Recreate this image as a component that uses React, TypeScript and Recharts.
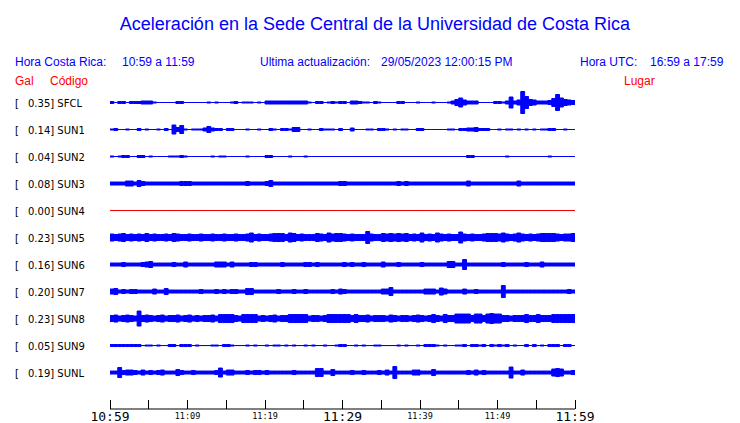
import { Area, ComposedChart, XAxis, YAxis } from 'recharts';

const codes = ['SFCL', 'SUN1', 'SUN2', 'SUN3', 'SUN4', 'SUN5', 'SUN6', 'SUN7', 'SUN8', 'SUN9', 'SUNL'];
const peaks = ['0.35', '0.14', '0.04', '0.08', '0.00', '0.23', '0.16', '0.20', '0.23', '0.05', '0.19'];
const places = [
  'Finca El Corralillo, Coronado',
  'CIMAR',
  'Ingenieria P01',
  'Ingenieria P06',
  'EBCI',
  'Rectoria',
  'Agroalimentarias',
  'Archivo',
  'Electrica P06',
  'Electrica P01',
  'LANAMME-CTT',
];
// station SUN4 had no signal and is drawn in red
const deadStations = ['SUN4'];

// minutes after 10:59
const timeTicks = [0, 5, 10, 15, 20, 25, 30, 35, 40, 45, 50, 55, 60];
const timeLabels = ['10:59', '', '11:09', '', '11:19', '', '11:29', '', '11:39', '', '11:49', '', '11:59'];
const bigLabels = ['10:59', '11:29', '11:59'];

// envelope of each trace, one char per 30 s (120 per hour), base-36 level
const sfcl = '2022022233 3100000220 0000010100 0120111010 3333333333 3102201212 2033211021 0000220001 0001000136 9533300002 213b35mc65 33348g9654';
const sun1 = '1200100201 0010209481 0111363220 2200010010 0210221440 0100211102 0030001102 2101011002 2000000110 2233422200 1011010101 0112200100';
const sun2 = '1012200220 1000011121 0000001011 0000010000 2200001000 1000000000 0000000000 0000000000 0000000000 0022000000 0010000000 0001000000';
const sun3 = '3333553643 3333333344 4333333333 3333343333 4633333333 3333333334 4333333333 3333434333 3333333333 3353333333 3333353333 3333333333';
const sun4 = '0000000000 0000000000 0000000000 0000000000 0000000000 0000000000 0000000000 0000000000 0000000000 0000000000 0000000000 0000000000';
const sun5 = '7678676768 6766768766 7667667667 6676679676 6788869867 6668769788 767666c766 8787878676 9676976766 b767667888 7976797676 7888876778';
const sun6 = '3334333345 6333334335 3333333555 3533334433 3333433333 4434333333 4343343333 5333433333 4333333663 3a33333333 3433333433 3533333333';
const sun7 = '5634344333 3533633333 3334333434 3443366333 3334333433 4333333435 4333333333 5583333333 3555375333 3533433333 3c33333333 3333333343';
const sun8 = '6756765f67 6567566756 7565667588 8865888856 5675668888 8566568888 8868667566 6576566567 6568658669 99969969a9 9665666866 8666888888';
const sun9 = '2222222201 1010022022 2010001102 2100010100 1011010100 1010010012 2001010011 0000101001 0222101001 1202212021 2120100202 0102220220';
const sunl = '33a4554353 4345333643 3433333493 5533343443 4333333433 3338833633 3343343334 353c333355 3336333333 3343534333 333b335333 3333787334';

const traces = [sfcl, sun1, sun2, sun3, sun4, sun5, sun6, sun7, sun8, sun9, sunl];
const rowTicks = codes.map((_, i) => i);

const SAMPLES = 120;
const ROW_PX = 27;
const BLUE = '#0000ff';
const RED = '#ee0000';

const levels = traces.map((s) => s.replace(/ /g, '').split('').map((c) => parseInt(c, 36)));

const data = Array.from({ length: SAMPLES + 1 }, (_, k) => {
  const row: Record<string, any> = { t: k * 0.5 };
  levels.forEach((lv, i) => {
    const h = (lv[Math.min(k, SAMPLES - 1)] * 0.5) / ROW_PX;
    row['s' + i] = [i - h, i + h];
  });
  return row;
});

const TimeTick = (props: any) => {
  const { x, y, index } = props;
  const label = timeLabels[index];
  const big = bigLabels.includes(label);
  return (
    <g>
      <line x1={x} x2={x} y1={y - 9} y2={y} stroke="#000" shapeRendering="crispEdges" />
      {label && (
        <text
          x={x}
          y={big ? y + 12 : y + 10}
          textAnchor="middle"
          fontFamily="DejaVu Sans Mono"
          fontSize={big ? 13 : 8.5}
          fill="#000"
        >
          {label}
        </text>
      )}
    </g>
  );
};

const CodeTick = (props: any) => {
  const { y, payload } = props;
  const i = payload.value;
  return (
    <g fontFamily="DejaVu Sans" fontSize={10} fill="#000">
      <text x={15} y={y + 4}>[</text>
      <text x={28} y={y + 4}>{peaks[i]}] {codes[i]}</text>
    </g>
  );
};

const PlaceTick = (props: any) => {
  const { y, payload } = props;
  return (
    <text x={587} y={y + 4} fontFamily="DejaVu Sans" fontSize={10} fill="#000">
      {places[payload.value]}
    </text>
  );
};

export default function App() {
  const head = { fontFamily: 'Liberation Sans, Arial, sans-serif', fontSize: 12 };
  return (
    <div style={{ position: 'absolute', left: 0, top: 0, width: 740, height: 423, background: '#fff' }}>
      <ComposedChart width={740} height={423} data={data} margin={{ top: 75.5, right: 0, bottom: 0, left: 0 }}>
        <XAxis
          dataKey="t"
          type="number"
          domain={[0, 60]}
          ticks={timeTicks}
          interval={0}
          height={14}
          tickSize={0}
          tickMargin={0}
          tickLine={false}
          axisLine={{ stroke: '#000' }}
          tick={<TimeTick />}
        />
        <YAxis
          yAxisId="l"
          type="number"
          domain={[-1, 11.35]}
          reversed
          ticks={rowTicks}
          interval={0}
          width={110}
          axisLine={false}
          tickLine={false}
          tick={<CodeTick />}
        />
        <YAxis
          yAxisId="r"
          orientation="right"
          type="number"
          domain={[-1, 11.35]}
          reversed
          ticks={rowTicks}
          interval={0}
          width={165}
          axisLine={false}
          tickLine={false}
          tick={<PlaceTick />}
        />
        {codes.map((c, i) => {
          const color = deadStations.includes(c) ? RED : BLUE;
          return (
            <Area
              key={c}
              yAxisId="l"
              dataKey={'s' + i}
              type="stepAfter"
              stroke={color}
              strokeWidth={1}
              fill={color}
              fillOpacity={1}
              dot={false}
              activeDot={false}
              isAnimationActive={false}
            />
          );
        })}
      </ComposedChart>
      <svg width={740} height={423} style={{ position: 'absolute', left: 0, top: 0, pointerEvents: 'none' }}>
        <text x={375} y={30} textAnchor="middle" fontFamily="Liberation Sans, Arial, sans-serif" fontSize={18} fill={BLUE}>
          Aceleración en la Sede Central de la Universidad de Costa Rica
        </text>
        <g {...head} fill={BLUE}>
          <text x={15} y={66}>Hora Costa Rica:</text>
          <text x={122} y={66}>10:59 a 11:59</text>
          <text x={260} y={66}>Ultima actualización:</text>
          <text x={381} y={66}>29/05/2023 12:00:15 PM</text>
          <text x={580} y={66}>Hora UTC:</text>
          <text x={650} y={66}>16:59 a 17:59</text>
        </g>
        <g {...head} fill="#ff0000">
          <text x={15} y={85}>Gal</text>
          <text x={50} y={85}>Código</text>
          <text x={624} y={85}>Lugar</text>
        </g>
      </svg>
    </div>
  );
}
